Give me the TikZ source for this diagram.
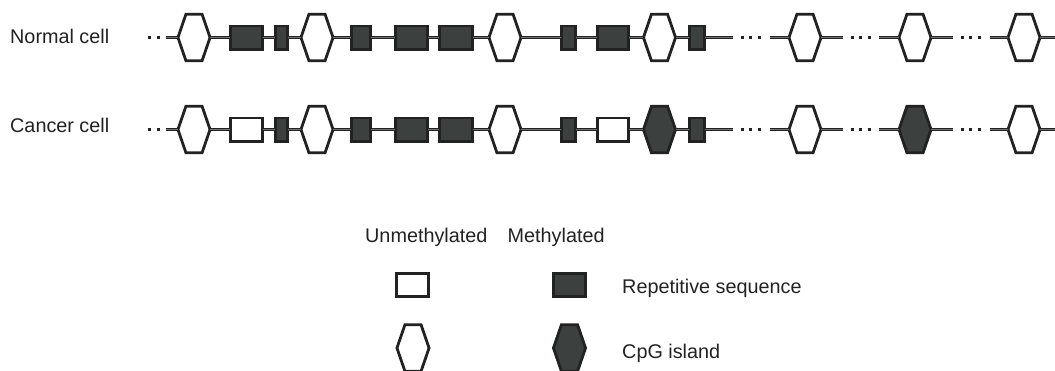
\documentclass[tikz,border=0pt]{standalone}
\usepackage{fontspec}
\setmainfont{Liberation Sans}
\definecolor{mfill}{RGB}{60,64,62}
\definecolor{inkc}{RGB}{34,34,34}
\tikzset{
  conn/.style={draw=inkc, line width=1.1pt, double=black!55, double distance=1.5pt},
  dotseg/.style={draw=inkc, line width=3.6pt, dash pattern=on 3.2pt off 5.3pt},
  seqbox/.style={draw=inkc, line width=2.8pt, rectangle, minimum height=23.2pt, inner sep=0pt, outer sep=0pt},
  meth/.style={fill=mfill},
  unmeth/.style={fill=white},
  hexanchor/.style={inner sep=0pt, outer sep=0pt, minimum width=32.1pt, minimum height=46.6pt},
  hexline/.style={draw=inkc, line width=2.8pt, line join=miter},
  lab/.style={font=\fontsize{19.8}{23}\selectfont, text=inkc, anchor=base west, inner sep=0pt}
}
\newcommand{\hexcell}[4]{%
  \node[hexanchor] (#1) at (#2,#3) {};
  \draw[hexline,fill=#4] (#1.west) -- ([xshift=8pt]#1.north west) -- ([xshift=-8pt]#1.north east) -- (#1.east) -- ([xshift=-8pt]#1.south east) -- ([xshift=8pt]#1.south west) -- cycle;}
\newcommand{\seqcell}[5]{%
  \node[seqbox,#5,minimum width=#4] (#1) at (#2,#3) {};}
\newcommand{\chromrow}[6]{%
  \coordinate (#1d0) at (148,#2);
  \coordinate (#1d1) at (159.7,#2);
  \coordinate (#1s0) at (166,#2);
  \coordinate (#1a0) at (733,#2);
  \coordinate (#1a1) at (740.7,#2);
  \coordinate (#1a2) at (760.7,#2);
  \coordinate (#1a3) at (770,#2);
  \coordinate (#1b0) at (843,#2);
  \coordinate (#1b1) at (850.7,#2);
  \coordinate (#1b2) at (870.7,#2);
  \coordinate (#1b3) at (879,#2);
  \coordinate (#1c0) at (953,#2);
  \coordinate (#1c1) at (960.7,#2);
  \coordinate (#1c2) at (980.7,#2);
  \coordinate (#1c3) at (990,#2);
  \coordinate (#1e) at (1056,#2);
  \hexcell{#1h1}{194}{#2}{white}
  \hexcell{#1h2}{317}{#2}{white}
  \hexcell{#1h3}{505}{#2}{white}
  \hexcell{#1h4}{659.5}{#2}{#5}
  \hexcell{#1h5}{805}{#2}{white}
  \hexcell{#1h6}{915}{#2}{#6}
  \hexcell{#1h7}{1024}{#2}{white}
  \seqcell{#1r1}{246.5}{#2}{32.2pt}{#3}
  \seqcell{#1r2}{281.5}{#2}{12.2pt}{meth}
  \seqcell{#1r3}{361}{#2}{19.2pt}{meth}
  \seqcell{#1r4}{411.5}{#2}{32.2pt}{meth}
  \seqcell{#1r5}{456}{#2}{33.2pt}{meth}
  \seqcell{#1r6}{568.5}{#2}{14.2pt}{meth}
  \seqcell{#1r7}{613}{#2}{31.2pt}{#4}
  \seqcell{#1r8}{697}{#2}{15.2pt}{meth}
  \draw[dotseg] (#1d0) -- (#1d1);
  \draw[conn] (#1s0) -- (#1h1.west);
  \draw[conn] (#1h1.east) -- (#1r1.west);
  \draw[conn] (#1r1.east) -- (#1r2.west);
  \draw[conn] (#1r2.east) -- (#1h2.west);
  \draw[conn] (#1h2.east) -- (#1r3.west);
  \draw[conn] (#1r3.east) -- (#1r4.west);
  \draw[conn] (#1r4.east) -- (#1r5.west);
  \draw[conn] (#1r5.east) -- (#1h3.west);
  \draw[conn] (#1h3.east) -- (#1r6.west);
  \draw[conn] (#1r6.east) -- (#1r7.west);
  \draw[conn] (#1r7.east) -- (#1h4.west);
  \draw[conn] (#1h4.east) -- (#1r8.west);
  \draw[conn] (#1r8.east) -- (#1a0);
  \draw[dotseg] (#1a1) -- (#1a2);
  \draw[conn] (#1a3) -- (#1h5.west);
  \draw[conn] (#1h5.east) -- (#1b0);
  \draw[dotseg] (#1b1) -- (#1b2);
  \draw[conn] (#1b3) -- (#1h6.west);
  \draw[conn] (#1h6.east) -- (#1c0);
  \draw[dotseg] (#1c1) -- (#1c2);
  \draw[conn] (#1c3) -- (#1h7.west);
  \draw[conn] (#1h7.east) -- (#1e);
}
\begin{document}
\begin{tikzpicture}[x=1pt,y=-1pt]
\useasboundingbox (0,0) rectangle (1055,370);
\fill[white] (0,0) rectangle (1055,370);
\node[lab] (lnormal) at (10,43) {Normal cell};
\node[lab] (lcancer) at (10,132) {Cancer cell};
\chromrow{n}{37.5}{meth}{meth}{white}{white}
\chromrow{c}{129.5}{unmeth}{unmeth}{mfill}{mfill}
% legend
\node[lab] (lunm) at (365,242) {Unmethylated};
\node[lab] (lmet) at (507.5,242) {Methylated};
\seqcell{legr1}{412.5}{285}{32.2pt}{unmeth}
\seqcell{legr2}{569.5}{285}{32.2pt}{meth}
\hexcell{legh1}{413}{348}{white}
\hexcell{legh2}{569.5}{348}{mfill}
\node[lab] (lrep) at (622,293) {Repetitive sequence};
\node[lab] (lcpg) at (622,358) {CpG island};
\end{tikzpicture}
\end{document}
